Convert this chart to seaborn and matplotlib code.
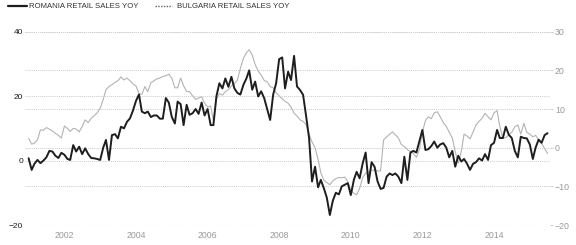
import numpy as np
import pandas as pd
import matplotlib
matplotlib.use("Agg")
import matplotlib.pyplot as plt
import matplotlib.dates as mdates
from matplotlib.lines import Line2D
import seaborn as sns

# Monthly YoY retail sales, Jan 2001 - Jul 2015
romania = [0.7, -2.9, -1.0, 0.2, -0.8, 0.0, 1.0, 3.0, 2.8, 1.5, 0.8, 2.4,
           1.8, 0.5, 0.2, 4.8, 2.8, 4.3, 2.0, 3.8, 2.0, 0.8, 0.7, 0.5,
           0.2, 4.0, 6.4, 0.2, 7.9, 8.2, 6.9, 10.5, 10.0, 12.0, 13.1, 15.5,
           18.5, 20.5, 15.2, 14.7, 15.2, 13.5, 14.0, 14.0, 13.0, 13.0, 19.4, 18.0,
           13.5, 11.5, 18.3, 17.5, 11.0, 17.3, 14.2, 14.7, 16.0, 14.5, 18.0, 14.0,
           16.0, 11.0, 11.0, 20.0, 24.0, 22.4, 25.5, 22.9, 26.0, 22.4, 21.0, 20.5,
           23.5, 25.5, 28.0, 22.0, 24.5, 19.9, 21.5, 19.4, 16.0, 12.6, 20.5, 24.0,
           31.5, 32.0, 22.4, 27.6, 25.0, 32.5, 23.0, 21.9, 20.4, 14.0, 7.0, -6.5,
           -1.9, -8.3, -6.0, -8.6, -11.5, -16.9, -12.5, -10.0, -10.5, -8.0, -7.5, -7.0,
           -10.7, -6.0, -3.5, -5.5, -1.0, 2.5, -7.0, -0.5, -2.0, -6.5, -8.8, -8.5,
           -5.0, -4.0, -4.5, -4.0, -5.0, -7.0, 1.2, -6.0, 2.5, 3.0, 2.5, 6.0,
           9.5, 3.3, 3.5, 4.5, 5.9, 4.0, 5.0, 5.4, 4.0, 1.0, 3.0, -1.9,
           1.5, -0.3, 0.5, -1.0, -2.9, -1.0, -0.5, 0.7, 0.0, 2.0, 0.2, 4.8,
           5.5, 9.5, 7.0, 7.0, 10.5, 8.0, 7.0, 3.0, 1.0, 7.4, 7.0, 6.9,
           5.0, 0.5, 4.0, 6.5, 5.5, 7.9, 8.5]

bulgaria = [2.4, 0.9, 1.2, 2.0, 4.6, 4.5, 5.2, 4.8, 4.3, 3.7, 3.2, 2.5,
            5.6, 5.0, 4.2, 5.0, 4.8, 4.1, 5.5, 7.2, 6.5, 7.6, 8.3, 9.0,
            10.2, 12.5, 15.0, 15.8, 16.3, 16.9, 17.3, 18.3, 17.5, 18.0, 17.3, 16.5,
            16.0, 14.0, 13.8, 15.8, 14.5, 16.8, 17.3, 17.8, 18.0, 18.4, 18.6, 19.0,
            18.0, 15.5, 15.5, 18.0, 16.0, 14.5, 14.5, 13.4, 12.5, 12.8, 13.2, 11.5,
            10.5, 10.8, 7.0, 12.5, 14.0, 13.6, 14.5, 15.0, 16.0, 16.5, 17.5, 20.5,
            23.1, 24.6, 25.3, 24.0, 21.5, 19.8, 18.8, 17.4, 17.0, 15.8, 15.5, 14.2,
            13.4, 12.6, 12.0, 11.5, 10.5, 8.9, 8.2, 7.2, 6.8, 6.0, 3.5, 1.5,
            0.0, -3.0, -6.5, -8.4, -9.0, -9.6, -8.6, -8.0, -7.7, -7.8, -7.6, -8.8,
            -11.0, -11.8, -12.2, -10.5, -7.8, -6.6, -6.3, -5.8, -5.8, -6.0, -6.0, 2.0,
            2.8, 3.5, 4.1, 3.3, 2.5, 0.8, 0.3, -0.5, -1.0, -1.5, -2.5, -0.5,
            4.0, 7.0, 8.0, 7.5, 9.0, 9.3, 8.0, 6.5, 5.5, 4.0, 2.5, -1.0,
            -4.0, -1.0, 3.5, 3.0, 2.3, 4.0, 5.9, 6.8, 7.6, 8.9, 8.0, 7.2,
            9.0, 9.6, 5.5, 2.4, 2.6, 3.3, 4.0, 5.4, 5.9, 3.5, 6.3, 4.0,
            3.5, 2.8, 3.2, 2.0, 1.1, -0.2, -1.5]

left_ticks = [-20, 0, 20, 40]
right_ticks = [-20, -10, 0, 10, 20, 30]
year_ticks = [2002, 2004, 2006, 2008, 2010, 2012, 2014]
series_names = ["ROMANIA RETAIL SALES YOY", "BULGARIA RETAIL SALES YOY"]

dates = pd.date_range("2001-01-01", periods=len(romania), freq="MS")
df = pd.DataFrame({"date": dates, "romania": romania, "bulgaria": bulgaria})

sns.set_theme(style="white")
plt.rcParams["font.family"] = ["Liberation Sans", "DejaVu Sans"]

W, H = 576, 245
fig = plt.figure(figsize=(W / 100, H / 100), dpi=100)
ax = fig.add_axes([25 / W, 1 - 225 / H, 525 / W, (225 - 31.7) / H])
ax2 = ax.twinx()

sns.lineplot(data=df, x="date", y="bulgaria", ax=ax2, color="#b3b3b3", lw=0.8)
sns.lineplot(data=df, x="date", y="romania", ax=ax, color="#1e1e1e", lw=1.4)

ax.set_zorder(ax2.get_zorder() + 1)
ax.patch.set_visible(False)

ax.set_xlim(pd.Timestamp("2000-11-25"), pd.Timestamp("2015-07-26"))
ax.set_ylim(-20, 40)
ax2.set_ylim(-20, 30)
ax.set_yticks(left_ticks)
ax2.set_yticks(right_ticks)
ax.set_xticks([pd.Timestamp(f"{y}-01-01") for y in year_ticks])
ax.xaxis.set_major_formatter(mdates.DateFormatter("%Y"))

for a in (ax, ax2):
    a.set_xlabel("")
    a.set_ylabel("")
    for s in a.spines.values():
        s.set_visible(False)

grid_kw = dict(color="#cdcdd4", linestyle=(0, (1, 1)), linewidth=0.75)
ax2.grid(True, axis="y", **grid_kw)
ax2.grid(True, axis="x", **grid_kw)
ax.grid(True, axis="y", **grid_kw)
ax.grid(False, axis="x")
ax2.set_axisbelow(True)
ax.set_axisbelow(True)

ax.tick_params(axis="y", labelsize=6, labelcolor="#1a1a2a", length=0, pad=1.5)
ax.tick_params(axis="x", labelsize=6.3, labelcolor="#999999", length=0, pad=4)
ax2.tick_params(axis="y", labelsize=6.3, labelcolor="#999999", length=2.5,
                color="#c8c8c8", width=0.6, pad=1, right=True)

# legend
y_leg = 1 - 6 / H
fig.add_artist(Line2D([8 / W, 27 / W], [y_leg, y_leg], color="#1e1e1e", lw=1.6))
fig.text(29 / W, y_leg, series_names[0], fontsize=5.6, va="center", ha="left", color="#333333")
fig.add_artist(Line2D([155 / W, 172 / W], [y_leg, y_leg], color="#666666", lw=1.0,
                      linestyle=(0, (1, 1))))
fig.text(177 / W, y_leg, series_names[1], fontsize=5.6, va="center", ha="left", color="#333333")

fig.savefig("out.png", dpi=100)
